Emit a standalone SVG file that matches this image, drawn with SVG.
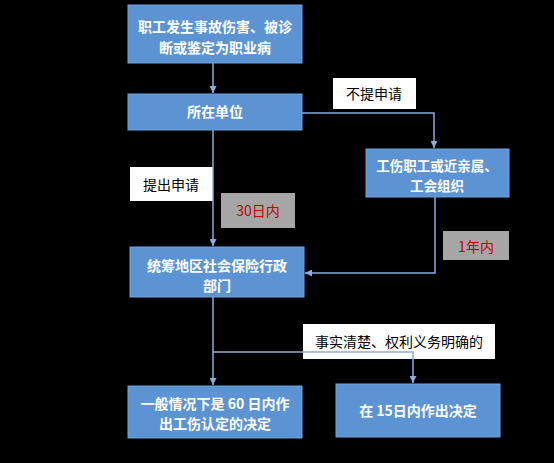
<svg xmlns="http://www.w3.org/2000/svg" width="554" height="463" viewBox="0 0 554 463">
<defs>
<marker id="arr" viewBox="0 0 10 10" refX="10" refY="5" markerWidth="7" markerHeight="7" markerUnits="userSpaceOnUse" orient="auto">
<path d="M0,0 L10,5 L0,10 z" fill="#8eaadb"/>
</marker>
<style>
.node rect{fill:#5b93d3;stroke:#6ea4e0;stroke-width:1}
.node text{fill:#ffffff;font-family:"Noto Sans CJK SC","Noto Sans",sans-serif;font-size:14px;font-weight:bold;text-anchor:middle;dominant-baseline:central}
.lbl rect{fill:#ffffff}
.lbl text{fill:#000000;font-family:"Noto Sans CJK SC","Noto Sans",sans-serif;font-size:14px;text-anchor:middle;dominant-baseline:central}
.tag rect{fill:#a6a6a6}
.tag text{fill:#c00000;font-family:"Noto Sans CJK SC","Noto Sans",sans-serif;font-size:14px;text-anchor:middle;dominant-baseline:central}
.conn path{fill:none;stroke:#8eaadb;stroke-width:1.5}
</style>
</defs>
<rect width="554" height="463" fill="#000000"/>
<g id="label-bu" class="lbl"><rect x="333" y="78" width="83" height="31"/><text x="374" y="93">不提申请</text></g>
<g id="label-ti" class="lbl"><rect x="130" y="167" width="83" height="34"/><text x="171" y="184">提出申请</text></g>
<g id="tag-30" class="tag"><rect x="221" y="193" width="74" height="35"/><text x="258" y="210">30日内</text></g>
<g id="tag-1" class="tag"><rect x="443" y="231" width="66" height="29"/><text x="476" y="246">1年内</text></g>
<g id="label-ss" class="lbl"><rect x="303" y="324" width="192" height="35"/><text x="399" y="341">事实清楚、权利义务明确的</text></g>
<g id="connectors" class="conn">
<path d="M213,63 V93" marker-end="url(#arr)"/>
<path d="M302,113 H434 V148" marker-end="url(#arr)"/>
<path d="M213,130 V246" marker-end="url(#arr)"/>
<path d="M435,197 V273 H305" marker-end="url(#arr)"/>
<path d="M213,297 V385" marker-end="url(#arr)"/>
<path d="M213,352 H413 V383" marker-end="url(#arr)"/>
</g>
<g id="n1" class="node"><rect x="128" y="5" width="174" height="58"/><text x="215" y="26">职工发生事故伤害、被诊</text><text x="215" y="47">断或鉴定为职业病</text></g>
<g id="n2" class="node"><rect x="128" y="94" width="174" height="36"/><text x="215" y="111">所在单位</text></g>
<g id="n3" class="node"><rect x="366" y="149" width="143" height="48"/><text x="437" y="165" style="font-size:13.5px">工伤职工或近亲属、</text><text x="437" y="185" style="font-size:13.5px">工会组织</text></g>
<g id="n4" class="node"><rect x="130" y="247" width="174" height="50"/><text x="217" y="265">统筹地区社会保险行政</text><text x="217" y="285">部门</text></g>
<g id="n5" class="node"><rect x="128" y="386" width="174" height="52"/><text x="215" y="403">一般情况下是 60 日内作</text><text x="215" y="423">出工伤认定的决定</text></g>
<g id="n6" class="node"><rect x="336" y="384" width="164" height="53"/><text x="418" y="410">在 15日内作出决定</text></g>
</svg>
